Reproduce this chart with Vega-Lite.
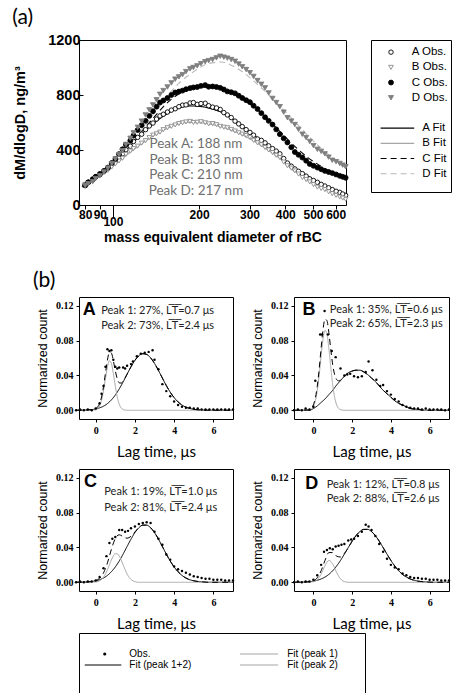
{
"$schema": "https://vega.github.io/schema/vega-lite/v6.json",
"background": "white",
"padding": {"left": 12, "top": 6, "right": 0, "bottom": 0},
"config": {
  "view": {"stroke": "black", "strokeWidth": 1},
  "axis": {"grid": false, "labelColor": "black", "titleColor": "black", "tickColor": "black", "domainColor": "black"},
  "title": {"color": "black"}
},
"datasets": {
  "sizeObs": [
    {"s":"A","d":80,"v":148},{"s":"A","d":85,"v":182},{"s":"A","d":90,"v":228},{"s":"A","d":96,"v":266},{"s":"A","d":102,"v":322},{"s":"A","d":108,"v":372},{"s":"A","d":115,"v":428},{"s":"A","d":122,"v":492},{"s":"A","d":130,"v":548},{"s":"A","d":138,"v":596},{"s":"A","d":146,"v":648},{"s":"A","d":155,"v":676},{"s":"A","d":165,"v":700},{"s":"A","d":175,"v":726},{"s":"A","d":186,"v":742},{"s":"A","d":197,"v":732},{"s":"A","d":210,"v":740},{"s":"A","d":223,"v":712},{"s":"A","d":237,"v":695},{"s":"A","d":251,"v":655},{"s":"A","d":267,"v":610},{"s":"A","d":283,"v":570},{"s":"A","d":301,"v":528},{"s":"A","d":320,"v":480},{"s":"A","d":340,"v":452},{"s":"A","d":361,"v":410},{"s":"A","d":383,"v":372},{"s":"A","d":407,"v":305},{"s":"A","d":432,"v":262},{"s":"A","d":459,"v":228},{"s":"A","d":487,"v":190},{"s":"A","d":518,"v":165},{"s":"A","d":550,"v":138},{"s":"A","d":584,"v":112},{"s":"A","d":620,"v":92},{"s":"A","d":650,"v":70},
    {"s":"A","d":82,"v":165},{"s":"A","d":87,"v":205},{"s":"A","d":93,"v":245},{"s":"A","d":99,"v":298},{"s":"A","d":105,"v":345},{"s":"A","d":111,"v":402},{"s":"A","d":118,"v":462},{"s":"A","d":126,"v":515},{"s":"A","d":134,"v":575},{"s":"A","d":142,"v":625},{"s":"A","d":150,"v":660},{"s":"A","d":160,"v":690},{"s":"A","d":170,"v":715},{"s":"A","d":180,"v":728},{"s":"A","d":191,"v":745},{"s":"A","d":203,"v":738},{"s":"A","d":216,"v":722},{"s":"A","d":230,"v":706},{"s":"A","d":244,"v":672},{"s":"A","d":259,"v":636},{"s":"A","d":275,"v":590},{"s":"A","d":292,"v":548},{"s":"A","d":310,"v":508},{"s":"A","d":330,"v":470},{"s":"A","d":350,"v":430},{"s":"A","d":372,"v":392},{"s":"A","d":395,"v":338},{"s":"A","d":420,"v":282},{"s":"A","d":445,"v":245},{"s":"A","d":473,"v":210},{"s":"A","d":502,"v":178},{"s":"A","d":534,"v":150},{"s":"A","d":567,"v":125},{"s":"A","d":602,"v":100},{"s":"A","d":635,"v":80},
    {"s":"B","d":80,"v":150},{"s":"B","d":85,"v":176},{"s":"B","d":90,"v":218},{"s":"B","d":96,"v":252},{"s":"B","d":102,"v":298},{"s":"B","d":108,"v":340},{"s":"B","d":115,"v":392},{"s":"B","d":122,"v":428},{"s":"B","d":130,"v":468},{"s":"B","d":138,"v":508},{"s":"B","d":146,"v":530},{"s":"B","d":155,"v":562},{"s":"B","d":165,"v":582},{"s":"B","d":175,"v":598},{"s":"B","d":186,"v":608},{"s":"B","d":197,"v":602},{"s":"B","d":210,"v":598},{"s":"B","d":223,"v":592},{"s":"B","d":237,"v":572},{"s":"B","d":251,"v":562},{"s":"B","d":267,"v":538},{"s":"B","d":283,"v":515},{"s":"B","d":301,"v":492},{"s":"B","d":320,"v":452},{"s":"B","d":340,"v":418},{"s":"B","d":361,"v":382},{"s":"B","d":383,"v":345},{"s":"B","d":407,"v":285},{"s":"B","d":432,"v":248},{"s":"B","d":459,"v":200},{"s":"B","d":487,"v":168},{"s":"B","d":518,"v":130},{"s":"B","d":550,"v":112},{"s":"B","d":584,"v":82},{"s":"B","d":620,"v":58},{"s":"B","d":650,"v":42},
    {"s":"B","d":82,"v":162},{"s":"B","d":87,"v":198},{"s":"B","d":93,"v":236},{"s":"B","d":99,"v":276},{"s":"B","d":105,"v":320},{"s":"B","d":111,"v":368},{"s":"B","d":118,"v":410},{"s":"B","d":126,"v":450},{"s":"B","d":134,"v":490},{"s":"B","d":142,"v":518},{"s":"B","d":150,"v":548},{"s":"B","d":160,"v":572},{"s":"B","d":170,"v":592},{"s":"B","d":180,"v":604},{"s":"B","d":191,"v":600},{"s":"B","d":203,"v":606},{"s":"B","d":216,"v":590},{"s":"B","d":230,"v":584},{"s":"B","d":244,"v":566},{"s":"B","d":259,"v":550},{"s":"B","d":275,"v":525},{"s":"B","d":292,"v":505},{"s":"B","d":310,"v":470},{"s":"B","d":330,"v":438},{"s":"B","d":350,"v":400},{"s":"B","d":372,"v":362},{"s":"B","d":395,"v":312},{"s":"B","d":420,"v":268},{"s":"B","d":445,"v":225},{"s":"B","d":473,"v":185},{"s":"B","d":502,"v":148},{"s":"B","d":534,"v":120},{"s":"B","d":567,"v":96},{"s":"B","d":602,"v":70},{"s":"B","d":635,"v":50},
    {"s":"C","d":80,"v":142},{"s":"C","d":85,"v":188},{"s":"C","d":90,"v":222},{"s":"C","d":96,"v":272},{"s":"C","d":102,"v":335},{"s":"C","d":108,"v":405},{"s":"C","d":115,"v":468},{"s":"C","d":122,"v":545},{"s":"C","d":130,"v":612},{"s":"C","d":138,"v":682},{"s":"C","d":146,"v":745},{"s":"C","d":155,"v":778},{"s":"C","d":165,"v":818},{"s":"C","d":175,"v":832},{"s":"C","d":186,"v":850},{"s":"C","d":197,"v":858},{"s":"C","d":210,"v":872},{"s":"C","d":223,"v":862},{"s":"C","d":237,"v":852},{"s":"C","d":251,"v":826},{"s":"C","d":267,"v":812},{"s":"C","d":283,"v":778},{"s":"C","d":301,"v":748},{"s":"C","d":320,"v":698},{"s":"C","d":340,"v":638},{"s":"C","d":361,"v":585},{"s":"C","d":383,"v":515},{"s":"C","d":407,"v":455},{"s":"C","d":432,"v":385},{"s":"C","d":459,"v":345},{"s":"C","d":487,"v":298},{"s":"C","d":518,"v":272},{"s":"C","d":550,"v":248},{"s":"C","d":584,"v":232},{"s":"C","d":620,"v":212},{"s":"C","d":650,"v":198},
    {"s":"C","d":82,"v":165},{"s":"C","d":87,"v":205},{"s":"C","d":93,"v":248},{"s":"C","d":99,"v":305},{"s":"C","d":105,"v":370},{"s":"C","d":111,"v":438},{"s":"C","d":118,"v":505},{"s":"C","d":126,"v":580},{"s":"C","d":134,"v":648},{"s":"C","d":142,"v":715},{"s":"C","d":150,"v":760},{"s":"C","d":160,"v":800},{"s":"C","d":170,"v":825},{"s":"C","d":180,"v":842},{"s":"C","d":191,"v":855},{"s":"C","d":203,"v":866},{"s":"C","d":216,"v":860},{"s":"C","d":230,"v":858},{"s":"C","d":244,"v":840},{"s":"C","d":259,"v":820},{"s":"C","d":275,"v":795},{"s":"C","d":292,"v":762},{"s":"C","d":310,"v":722},{"s":"C","d":330,"v":668},{"s":"C","d":350,"v":612},{"s":"C","d":372,"v":550},{"s":"C","d":395,"v":485},{"s":"C","d":420,"v":420},{"s":"C","d":445,"v":365},{"s":"C","d":473,"v":322},{"s":"C","d":502,"v":285},{"s":"C","d":534,"v":260},{"s":"C","d":567,"v":240},{"s":"C","d":602,"v":222},{"s":"C","d":635,"v":205},
    {"s":"D","d":80,"v":140},{"s":"D","d":85,"v":170},{"s":"D","d":90,"v":212},{"s":"D","d":96,"v":268},{"s":"D","d":102,"v":335},{"s":"D","d":108,"v":395},{"s":"D","d":115,"v":485},{"s":"D","d":122,"v":565},{"s":"D","d":130,"v":655},{"s":"D","d":138,"v":728},{"s":"D","d":146,"v":805},{"s":"D","d":155,"v":858},{"s":"D","d":165,"v":915},{"s":"D","d":175,"v":948},{"s":"D","d":186,"v":990},{"s":"D","d":197,"v":1012},{"s":"D","d":210,"v":1042},{"s":"D","d":223,"v":1058},{"s":"D","d":237,"v":1082},{"s":"D","d":251,"v":1068},{"s":"D","d":267,"v":1045},{"s":"D","d":283,"v":1005},{"s":"D","d":301,"v":962},{"s":"D","d":320,"v":905},{"s":"D","d":340,"v":852},{"s":"D","d":361,"v":775},{"s":"D","d":383,"v":715},{"s":"D","d":407,"v":635},{"s":"D","d":432,"v":585},{"s":"D","d":459,"v":515},{"s":"D","d":487,"v":462},{"s":"D","d":518,"v":405},{"s":"D","d":550,"v":372},{"s":"D","d":584,"v":325},{"s":"D","d":620,"v":302},{"s":"D","d":650,"v":278},
    {"s":"D","d":82,"v":155},{"s":"D","d":87,"v":192},{"s":"D","d":93,"v":240},{"s":"D","d":99,"v":300},{"s":"D","d":105,"v":365},{"s":"D","d":111,"v":440},{"s":"D","d":118,"v":525},{"s":"D","d":126,"v":610},{"s":"D","d":134,"v":692},{"s":"D","d":142,"v":765},{"s":"D","d":150,"v":832},{"s":"D","d":160,"v":888},{"s":"D","d":170,"v":932},{"s":"D","d":180,"v":970},{"s":"D","d":191,"v":1000},{"s":"D","d":203,"v":1028},{"s":"D","d":216,"v":1050},{"s":"D","d":230,"v":1070},{"s":"D","d":244,"v":1075},{"s":"D","d":259,"v":1058},{"s":"D","d":275,"v":1025},{"s":"D","d":292,"v":985},{"s":"D","d":310,"v":935},{"s":"D","d":330,"v":878},{"s":"D","d":350,"v":815},{"s":"D","d":372,"v":745},{"s":"D","d":395,"v":675},{"s":"D","d":420,"v":610},{"s":"D","d":445,"v":550},{"s":"D","d":473,"v":490},{"s":"D","d":502,"v":432},{"s":"D","d":534,"v":390},{"s":"D","d":567,"v":348},{"s":"D","d":602,"v":315},{"s":"D","d":635,"v":290}
  ],
  "sizeFit": [
    {"s":"A","d":78,"v":138},{"s":"A","d":90,"v":222},{"s":"A","d":100,"v":300},{"s":"A","d":112,"v":405},{"s":"A","d":125,"v":510},{"s":"A","d":140,"v":600},{"s":"A","d":155,"v":665},{"s":"A","d":170,"v":705},{"s":"A","d":188,"v":720},{"s":"A","d":205,"v":715},{"s":"A","d":225,"v":695},{"s":"A","d":250,"v":655},{"s":"A","d":280,"v":580},{"s":"A","d":310,"v":510},{"s":"A","d":345,"v":440},{"s":"A","d":385,"v":355},{"s":"A","d":430,"v":275},{"s":"A","d":480,"v":210},{"s":"A","d":535,"v":155},{"s":"A","d":595,"v":110},{"s":"A","d":652,"v":78},
    {"s":"B","d":78,"v":138},{"s":"B","d":90,"v":212},{"s":"B","d":100,"v":282},{"s":"B","d":112,"v":365},{"s":"B","d":125,"v":440},{"s":"B","d":140,"v":508},{"s":"B","d":155,"v":558},{"s":"B","d":170,"v":590},{"s":"B","d":183,"v":600},{"s":"B","d":200,"v":598},{"s":"B","d":225,"v":582},{"s":"B","d":250,"v":555},{"s":"B","d":280,"v":515},{"s":"B","d":310,"v":465},{"s":"B","d":345,"v":405},{"s":"B","d":385,"v":335},{"s":"B","d":430,"v":262},{"s":"B","d":480,"v":198},{"s":"B","d":535,"v":140},{"s":"B","d":595,"v":95},{"s":"B","d":652,"v":60},
    {"s":"C","d":78,"v":132},{"s":"C","d":90,"v":215},{"s":"C","d":100,"v":295},{"s":"C","d":112,"v":400},{"s":"C","d":125,"v":525},{"s":"C","d":140,"v":645},{"s":"C","d":155,"v":745},{"s":"C","d":170,"v":808},{"s":"C","d":190,"v":845},{"s":"C","d":210,"v":858},{"s":"C","d":230,"v":850},{"s":"C","d":255,"v":825},{"s":"C","d":280,"v":780},{"s":"C","d":310,"v":715},{"s":"C","d":345,"v":630},{"s":"C","d":385,"v":530},{"s":"C","d":430,"v":430},{"s":"C","d":480,"v":345},{"s":"C","d":535,"v":280},{"s":"C","d":595,"v":228},{"s":"C","d":652,"v":190},
    {"s":"D","d":78,"v":128},{"s":"D","d":90,"v":208},{"s":"D","d":100,"v":295},{"s":"D","d":112,"v":405},{"s":"D","d":125,"v":535},{"s":"D","d":140,"v":675},{"s":"D","d":155,"v":795},{"s":"D","d":170,"v":885},{"s":"D","d":190,"v":965},{"s":"D","d":217,"v":1030},{"s":"D","d":240,"v":1040},{"s":"D","d":260,"v":1015},{"s":"D","d":285,"v":965},{"s":"D","d":315,"v":890},{"s":"D","d":345,"v":815},{"s":"D","d":385,"v":715},{"s":"D","d":430,"v":610},{"s":"D","d":480,"v":505},{"s":"D","d":535,"v":410},{"s":"D","d":595,"v":330},{"s":"D","d":652,"v":270}
  ],
  "lagObs": [
    {"p":"A","t":-1,"v":0},{"p":"A","t":-0.8,"v":0.001},{"p":"A","t":-0.6,"v":0},{"p":"A","t":-0.4,"v":0.001},{"p":"A","t":-0.2,"v":0},{"p":"A","t":0,"v":0.002},{"p":"A","t":0.2,"v":0.008},{"p":"A","t":0.3,"v":0.019},{"p":"A","t":0.4,"v":0.028},{"p":"A","t":0.5,"v":0.05},{"p":"A","t":0.6,"v":0.07},{"p":"A","t":0.7,"v":0.068},{"p":"A","t":0.8,"v":0.069},{"p":"A","t":0.9,"v":0.058},{"p":"A","t":1,"v":0.05},{"p":"A","t":1.1,"v":0.048},{"p":"A","t":1.2,"v":0.049},{"p":"A","t":1.4,"v":0.049},{"p":"A","t":1.5,"v":0.048},{"p":"A","t":1.6,"v":0.051},{"p":"A","t":1.8,"v":0.053},{"p":"A","t":1.9,"v":0.056},{"p":"A","t":2.1,"v":0.062},{"p":"A","t":2.3,"v":0.065},{"p":"A","t":2.5,"v":0.066},{"p":"A","t":2.7,"v":0.067},{"p":"A","t":2.9,"v":0.069},{"p":"A","t":3,"v":0.058},{"p":"A","t":3.2,"v":0.047},{"p":"A","t":3.4,"v":0.03},{"p":"A","t":3.6,"v":0.022},{"p":"A","t":3.8,"v":0.016},{"p":"A","t":4,"v":0.01},{"p":"A","t":4.2,"v":0.006},{"p":"A","t":4.4,"v":0.004},{"p":"A","t":4.6,"v":0.003},{"p":"A","t":4.8,"v":0.003},{"p":"A","t":5,"v":0.002},{"p":"A","t":5.2,"v":0.002},{"p":"A","t":5.4,"v":0.001},{"p":"A","t":5.6,"v":0.001},{"p":"A","t":5.8,"v":0.001},{"p":"A","t":6,"v":0.001},{"p":"A","t":6.2,"v":0.001},{"p":"A","t":6.4,"v":0.001},{"p":"A","t":6.6,"v":0.001},{"p":"A","t":6.8,"v":0.001},{"p":"A","t":7,"v":0.001},
    {"p":"B","t":-1,"v":0},{"p":"B","t":-0.8,"v":0.001},{"p":"B","t":-0.6,"v":0},{"p":"B","t":-0.4,"v":0.002},{"p":"B","t":-0.2,"v":0.001},{"p":"B","t":0,"v":0.004},{"p":"B","t":0.1,"v":0.034},{"p":"B","t":0.35,"v":0.087},{"p":"B","t":0.45,"v":0.087},{"p":"B","t":0.58,"v":0.114},{"p":"B","t":0.75,"v":0.087},{"p":"B","t":0.95,"v":0.068},{"p":"B","t":1.15,"v":0.061},{"p":"B","t":1.4,"v":0.048},{"p":"B","t":1.6,"v":0.04},{"p":"B","t":1.75,"v":0.041},{"p":"B","t":1.9,"v":0.042},{"p":"B","t":2.1,"v":0.039},{"p":"B","t":2.3,"v":0.038},{"p":"B","t":2.5,"v":0.039},{"p":"B","t":2.7,"v":0.044},{"p":"B","t":2.85,"v":0.056},{"p":"B","t":3.05,"v":0.046},{"p":"B","t":3.25,"v":0.035},{"p":"B","t":3.45,"v":0.028},{"p":"B","t":3.6,"v":0.029},{"p":"B","t":3.8,"v":0.022},{"p":"B","t":4,"v":0.018},{"p":"B","t":4.2,"v":0.013},{"p":"B","t":4.4,"v":0.01},{"p":"B","t":4.6,"v":0.006},{"p":"B","t":4.8,"v":0.004},{"p":"B","t":5,"v":0.003},{"p":"B","t":5.2,"v":0.002},{"p":"B","t":5.4,"v":0.002},{"p":"B","t":5.6,"v":0.001},{"p":"B","t":5.8,"v":0.002},{"p":"B","t":6,"v":0.001},{"p":"B","t":6.2,"v":0.001},{"p":"B","t":6.4,"v":0.001},{"p":"B","t":6.6,"v":0.001},{"p":"B","t":6.8,"v":0},{"p":"B","t":7,"v":0.001},
    {"p":"C","t":-1,"v":0},{"p":"C","t":-0.8,"v":0.001},{"p":"C","t":-0.6,"v":0},{"p":"C","t":-0.4,"v":0.001},{"p":"C","t":-0.2,"v":0.001},{"p":"C","t":0,"v":0.002},{"p":"C","t":0.2,"v":0.006},{"p":"C","t":0.4,"v":0.016},{"p":"C","t":0.55,"v":0.03},{"p":"C","t":0.7,"v":0.045},{"p":"C","t":0.85,"v":0.05},{"p":"C","t":1,"v":0.052},{"p":"C","t":1.2,"v":0.06},{"p":"C","t":1.35,"v":0.06},{"p":"C","t":1.5,"v":0.058},{"p":"C","t":1.65,"v":0.059},{"p":"C","t":1.8,"v":0.062},{"p":"C","t":2,"v":0.064},{"p":"C","t":2.2,"v":0.067},{"p":"C","t":2.4,"v":0.068},{"p":"C","t":2.6,"v":0.069},{"p":"C","t":2.8,"v":0.068},{"p":"C","t":3,"v":0.058},{"p":"C","t":3.2,"v":0.05},{"p":"C","t":3.4,"v":0.043},{"p":"C","t":3.6,"v":0.032},{"p":"C","t":3.8,"v":0.026},{"p":"C","t":4,"v":0.018},{"p":"C","t":4.2,"v":0.015},{"p":"C","t":4.4,"v":0.013},{"p":"C","t":4.6,"v":0.011},{"p":"C","t":4.8,"v":0.009},{"p":"C","t":5,"v":0.007},{"p":"C","t":5.2,"v":0.006},{"p":"C","t":5.4,"v":0.005},{"p":"C","t":5.6,"v":0.004},{"p":"C","t":5.8,"v":0.004},{"p":"C","t":6,"v":0.003},{"p":"C","t":6.2,"v":0.003},{"p":"C","t":6.4,"v":0.003},{"p":"C","t":6.6,"v":0.002},{"p":"C","t":6.8,"v":0.002},{"p":"C","t":7,"v":0.002},
    {"p":"D","t":-1,"v":0},{"p":"D","t":-0.8,"v":0.001},{"p":"D","t":-0.6,"v":0},{"p":"D","t":-0.4,"v":0.001},{"p":"D","t":-0.2,"v":0.001},{"p":"D","t":0,"v":0.003},{"p":"D","t":0.2,"v":0.008},{"p":"D","t":0.4,"v":0.02},{"p":"D","t":0.55,"v":0.035},{"p":"D","t":0.7,"v":0.037},{"p":"D","t":0.85,"v":0.039},{"p":"D","t":1,"v":0.038},{"p":"D","t":1.15,"v":0.041},{"p":"D","t":1.3,"v":0.042},{"p":"D","t":1.45,"v":0.043},{"p":"D","t":1.6,"v":0.044},{"p":"D","t":1.8,"v":0.048},{"p":"D","t":1.95,"v":0.049},{"p":"D","t":2.1,"v":0.05},{"p":"D","t":2.3,"v":0.053},{"p":"D","t":2.5,"v":0.058},{"p":"D","t":2.7,"v":0.066},{"p":"D","t":2.85,"v":0.064},{"p":"D","t":3,"v":0.06},{"p":"D","t":3.2,"v":0.053},{"p":"D","t":3.4,"v":0.044},{"p":"D","t":3.6,"v":0.035},{"p":"D","t":3.8,"v":0.027},{"p":"D","t":4,"v":0.02},{"p":"D","t":4.2,"v":0.017},{"p":"D","t":4.4,"v":0.015},{"p":"D","t":4.6,"v":0.01},{"p":"D","t":4.8,"v":0.008},{"p":"D","t":5,"v":0.006},{"p":"D","t":5.2,"v":0.005},{"p":"D","t":5.4,"v":0.005},{"p":"D","t":5.6,"v":0.004},{"p":"D","t":5.8,"v":0.004},{"p":"D","t":6,"v":0.003},{"p":"D","t":6.2,"v":0.003},{"p":"D","t":6.4,"v":0.003},{"p":"D","t":6.6,"v":0.002},{"p":"D","t":6.8,"v":0.002},{"p":"D","t":7,"v":0.002}
  ],
  "lagFit": [
    {"p":"A","c":"p2","t":-1,"v":0},{"p":"A","c":"p2","t":-0.4,"v":0.0004},{"p":"A","c":"p2","t":0,"v":0.0015},{"p":"A","c":"p2","t":0.2,"v":0.0028},{"p":"A","c":"p2","t":0.4,"v":0.0047},{"p":"A","c":"p2","t":0.6,"v":0.0077},{"p":"A","c":"p2","t":0.8,"v":0.0119},{"p":"A","c":"p2","t":1,"v":0.0175},{"p":"A","c":"p2","t":1.2,"v":0.0245},{"p":"A","c":"p2","t":1.4,"v":0.0326},{"p":"A","c":"p2","t":1.6,"v":0.0414},{"p":"A","c":"p2","t":1.8,"v":0.0499},{"p":"A","c":"p2","t":2,"v":0.0573},{"p":"A","c":"p2","t":2.2,"v":0.0625},{"p":"A","c":"p2","t":2.4,"v":0.0649},{"p":"A","c":"p2","t":2.6,"v":0.0641},{"p":"A","c":"p2","t":2.8,"v":0.0602},{"p":"A","c":"p2","t":3,"v":0.0538},{"p":"A","c":"p2","t":3.2,"v":0.0457},{"p":"A","c":"p2","t":3.4,"v":0.037},{"p":"A","c":"p2","t":3.6,"v":0.0284},{"p":"A","c":"p2","t":3.8,"v":0.0208},{"p":"A","c":"p2","t":4,"v":0.0145},{"p":"A","c":"p2","t":4.2,"v":0.0096},{"p":"A","c":"p2","t":4.4,"v":0.006},{"p":"A","c":"p2","t":4.6,"v":0.0036},{"p":"A","c":"p2","t":4.8,"v":0.0021},{"p":"A","c":"p2","t":5,"v":0.0011},{"p":"A","c":"p2","t":5.4,"v":0.0003},{"p":"A","c":"p2","t":5.8,"v":0},{"p":"A","c":"p2","t":7,"v":0},
    {"p":"A","c":"p1","t":-1,"v":0},{"p":"A","c":"p1","t":0,"v":0.0005},{"p":"A","c":"p1","t":0.1,"v":0.0017},{"p":"A","c":"p1","t":0.2,"v":0.0049},{"p":"A","c":"p1","t":0.3,"v":0.0115},{"p":"A","c":"p1","t":0.4,"v":0.0225},{"p":"A","c":"p1","t":0.5,"v":0.0367},{"p":"A","c":"p1","t":0.6,"v":0.05},{"p":"A","c":"p1","t":0.7,"v":0.0569},{"p":"A","c":"p1","t":0.8,"v":0.0538},{"p":"A","c":"p1","t":0.9,"v":0.0424},{"p":"A","c":"p1","t":1,"v":0.0279},{"p":"A","c":"p1","t":1.1,"v":0.0153},{"p":"A","c":"p1","t":1.2,"v":0.007},{"p":"A","c":"p1","t":1.3,"v":0.0027},{"p":"A","c":"p1","t":1.4,"v":0.0009},{"p":"A","c":"p1","t":1.6,"v":0},{"p":"A","c":"p1","t":7,"v":0},
    {"p":"A","c":"total","t":-1,"v":0},{"p":"A","c":"total","t":-0.4,"v":0.0004},{"p":"A","c":"total","t":0,"v":0.002},{"p":"A","c":"total","t":0.1,"v":0.0038},{"p":"A","c":"total","t":0.2,"v":0.0077},{"p":"A","c":"total","t":0.3,"v":0.0152},{"p":"A","c":"total","t":0.4,"v":0.0272},{"p":"A","c":"total","t":0.5,"v":0.0428},{"p":"A","c":"total","t":0.6,"v":0.0577},{"p":"A","c":"total","t":0.7,"v":0.0666},{"p":"A","c":"total","t":0.8,"v":0.0657},{"p":"A","c":"total","t":0.9,"v":0.057},{"p":"A","c":"total","t":1,"v":0.0454},{"p":"A","c":"total","t":1.1,"v":0.0362},{"p":"A","c":"total","t":1.2,"v":0.0315},{"p":"A","c":"total","t":1.3,"v":0.0312},{"p":"A","c":"total","t":1.4,"v":0.0335},{"p":"A","c":"total","t":1.6,"v":0.0414},{"p":"A","c":"total","t":1.8,"v":0.0499},{"p":"A","c":"total","t":2,"v":0.0573},{"p":"A","c":"total","t":2.2,"v":0.0625},{"p":"A","c":"total","t":2.4,"v":0.0649},{"p":"A","c":"total","t":2.6,"v":0.0641},{"p":"A","c":"total","t":2.8,"v":0.0602},{"p":"A","c":"total","t":3,"v":0.0538},{"p":"A","c":"total","t":3.2,"v":0.0457},{"p":"A","c":"total","t":3.4,"v":0.037},{"p":"A","c":"total","t":3.6,"v":0.0284},{"p":"A","c":"total","t":3.8,"v":0.0208},{"p":"A","c":"total","t":4,"v":0.0145},{"p":"A","c":"total","t":4.2,"v":0.0096},{"p":"A","c":"total","t":4.4,"v":0.006},{"p":"A","c":"total","t":4.6,"v":0.0036},{"p":"A","c":"total","t":4.8,"v":0.0021},{"p":"A","c":"total","t":5,"v":0.0011},{"p":"A","c":"total","t":5.4,"v":0.0003},{"p":"A","c":"total","t":5.8,"v":0},{"p":"A","c":"total","t":7,"v":0},
    {"p":"B","c":"p2","t":-1,"v":0},{"p":"B","c":"p2","t":-0.2,"v":0},{"p":"B","c":"p2","t":0,"v":0.002},{"p":"B","c":"p2","t":0.2,"v":0.005},{"p":"B","c":"p2","t":0.4,"v":0.009},{"p":"B","c":"p2","t":0.6,"v":0.013},{"p":"B","c":"p2","t":0.8,"v":0.018},{"p":"B","c":"p2","t":1,"v":0.023},{"p":"B","c":"p2","t":1.2,"v":0.029},{"p":"B","c":"p2","t":1.4,"v":0.034},{"p":"B","c":"p2","t":1.6,"v":0.039},{"p":"B","c":"p2","t":1.8,"v":0.043},{"p":"B","c":"p2","t":2,"v":0.045},{"p":"B","c":"p2","t":2.2,"v":0.046},{"p":"B","c":"p2","t":2.4,"v":0.046},{"p":"B","c":"p2","t":2.6,"v":0.044},{"p":"B","c":"p2","t":2.8,"v":0.041},{"p":"B","c":"p2","t":3,"v":0.037},{"p":"B","c":"p2","t":3.2,"v":0.033},{"p":"B","c":"p2","t":3.4,"v":0.028},{"p":"B","c":"p2","t":3.6,"v":0.023},{"p":"B","c":"p2","t":3.8,"v":0.019},{"p":"B","c":"p2","t":4,"v":0.015},{"p":"B","c":"p2","t":4.2,"v":0.011},{"p":"B","c":"p2","t":4.4,"v":0.008},{"p":"B","c":"p2","t":4.6,"v":0.006},{"p":"B","c":"p2","t":4.8,"v":0.004},{"p":"B","c":"p2","t":5,"v":0.002},{"p":"B","c":"p2","t":5.4,"v":0.001},{"p":"B","c":"p2","t":5.8,"v":0},{"p":"B","c":"p2","t":7,"v":0},
    {"p":"B","c":"p1","t":-1,"v":0},{"p":"B","c":"p1","t":-0.2,"v":0.0004},{"p":"B","c":"p1","t":-0.1,"v":0.0015},{"p":"B","c":"p1","t":0,"v":0.0042},{"p":"B","c":"p1","t":0.1,"v":0.0106},{"p":"B","c":"p1","t":0.2,"v":0.0225},{"p":"B","c":"p1","t":0.3,"v":0.0405},{"p":"B","c":"p1","t":0.4,"v":0.0625},{"p":"B","c":"p1","t":0.5,"v":0.082},{"p":"B","c":"p1","t":0.6,"v":0.0917},{"p":"B","c":"p1","t":0.7,"v":0.0874},{"p":"B","c":"p1","t":0.8,"v":0.071},{"p":"B","c":"p1","t":0.9,"v":0.0491},{"p":"B","c":"p1","t":1,"v":0.029},{"p":"B","c":"p1","t":1.1,"v":0.0146},{"p":"B","c":"p1","t":1.2,"v":0.0063},{"p":"B","c":"p1","t":1.3,"v":0.0023},{"p":"B","c":"p1","t":1.4,"v":0.0007},{"p":"B","c":"p1","t":1.6,"v":0},{"p":"B","c":"p1","t":7,"v":0},
    {"p":"B","c":"total","t":-1,"v":0},{"p":"B","c":"total","t":-0.2,"v":0.0004},{"p":"B","c":"total","t":-0.1,"v":0.0025},{"p":"B","c":"total","t":0,"v":0.0062},{"p":"B","c":"total","t":0.1,"v":0.014},{"p":"B","c":"total","t":0.2,"v":0.0275},{"p":"B","c":"total","t":0.3,"v":0.0475},{"p":"B","c":"total","t":0.4,"v":0.0715},{"p":"B","c":"total","t":0.5,"v":0.093},{"p":"B","c":"total","t":0.6,"v":0.1047},{"p":"B","c":"total","t":0.7,"v":0.1029},{"p":"B","c":"total","t":0.8,"v":0.089},{"p":"B","c":"total","t":0.9,"v":0.0696},{"p":"B","c":"total","t":1,"v":0.052},{"p":"B","c":"total","t":1.1,"v":0.0406},{"p":"B","c":"total","t":1.2,"v":0.0353},{"p":"B","c":"total","t":1.3,"v":0.0338},{"p":"B","c":"total","t":1.4,"v":0.0347},{"p":"B","c":"total","t":1.6,"v":0.039},{"p":"B","c":"total","t":1.8,"v":0.043},{"p":"B","c":"total","t":2,"v":0.045},{"p":"B","c":"total","t":2.2,"v":0.046},{"p":"B","c":"total","t":2.4,"v":0.046},{"p":"B","c":"total","t":2.6,"v":0.044},{"p":"B","c":"total","t":2.8,"v":0.041},{"p":"B","c":"total","t":3,"v":0.037},{"p":"B","c":"total","t":3.2,"v":0.033},{"p":"B","c":"total","t":3.4,"v":0.028},{"p":"B","c":"total","t":3.6,"v":0.023},{"p":"B","c":"total","t":3.8,"v":0.019},{"p":"B","c":"total","t":4,"v":0.015},{"p":"B","c":"total","t":4.2,"v":0.011},{"p":"B","c":"total","t":4.4,"v":0.008},{"p":"B","c":"total","t":4.6,"v":0.006},{"p":"B","c":"total","t":4.8,"v":0.004},{"p":"B","c":"total","t":5,"v":0.002},{"p":"B","c":"total","t":5.4,"v":0.001},{"p":"B","c":"total","t":5.8,"v":0},{"p":"B","c":"total","t":7,"v":0},
    {"p":"C","c":"p2","t":-1,"v":0},{"p":"C","c":"p2","t":-0.4,"v":0.0004},{"p":"C","c":"p2","t":0,"v":0.0017},{"p":"C","c":"p2","t":0.2,"v":0.0029},{"p":"C","c":"p2","t":0.4,"v":0.0049},{"p":"C","c":"p2","t":0.6,"v":0.0079},{"p":"C","c":"p2","t":0.8,"v":0.0121},{"p":"C","c":"p2","t":1,"v":0.0176},{"p":"C","c":"p2","t":1.2,"v":0.0244},{"p":"C","c":"p2","t":1.4,"v":0.0324},{"p":"C","c":"p2","t":1.6,"v":0.041},{"p":"C","c":"p2","t":1.8,"v":0.0495},{"p":"C","c":"p2","t":2,"v":0.057},{"p":"C","c":"p2","t":2.2,"v":0.0626},{"p":"C","c":"p2","t":2.4,"v":0.0656},{"p":"C","c":"p2","t":2.6,"v":0.0656},{"p":"C","c":"p2","t":2.8,"v":0.0626},{"p":"C","c":"p2","t":3,"v":0.057},{"p":"C","c":"p2","t":3.2,"v":0.0495},{"p":"C","c":"p2","t":3.4,"v":0.041},{"p":"C","c":"p2","t":3.6,"v":0.0324},{"p":"C","c":"p2","t":3.8,"v":0.0244},{"p":"C","c":"p2","t":4,"v":0.0176},{"p":"C","c":"p2","t":4.2,"v":0.0121},{"p":"C","c":"p2","t":4.4,"v":0.0079},{"p":"C","c":"p2","t":4.6,"v":0.0049},{"p":"C","c":"p2","t":4.8,"v":0.0029},{"p":"C","c":"p2","t":5,"v":0.0017},{"p":"C","c":"p2","t":5.4,"v":0.0005},{"p":"C","c":"p2","t":5.8,"v":0},{"p":"C","c":"p2","t":7,"v":0},
    {"p":"C","c":"p1","t":-1,"v":0},{"p":"C","c":"p1","t":0,"v":0.0004},{"p":"C","c":"p1","t":0.2,"v":0.0017},{"p":"C","c":"p1","t":0.4,"v":0.0059},{"p":"C","c":"p1","t":0.6,"v":0.0144},{"p":"C","c":"p1","t":0.8,"v":0.0256},{"p":"C","c":"p1","t":1,"v":0.0327},{"p":"C","c":"p1","t":1.1,"v":0.0327},{"p":"C","c":"p1","t":1.2,"v":0.0301},{"p":"C","c":"p1","t":1.4,"v":0.02},{"p":"C","c":"p1","t":1.6,"v":0.0096},{"p":"C","c":"p1","t":1.8,"v":0.0033},{"p":"C","c":"p1","t":2,"v":0.0008},{"p":"C","c":"p1","t":2.2,"v":0},{"p":"C","c":"p1","t":7,"v":0},
    {"p":"C","c":"total","t":-1,"v":0},{"p":"C","c":"total","t":-0.4,"v":0.0004},{"p":"C","c":"total","t":0,"v":0.0021},{"p":"C","c":"total","t":0.2,"v":0.0046},{"p":"C","c":"total","t":0.4,"v":0.0108},{"p":"C","c":"total","t":0.6,"v":0.0223},{"p":"C","c":"total","t":0.8,"v":0.0377},{"p":"C","c":"total","t":1,"v":0.0503},{"p":"C","c":"total","t":1.2,"v":0.0545},{"p":"C","c":"total","t":1.4,"v":0.0524},{"p":"C","c":"total","t":1.6,"v":0.0506},{"p":"C","c":"total","t":1.8,"v":0.0528},{"p":"C","c":"total","t":2,"v":0.0578},{"p":"C","c":"total","t":2.2,"v":0.0626},{"p":"C","c":"total","t":2.4,"v":0.0656},{"p":"C","c":"total","t":2.6,"v":0.0656},{"p":"C","c":"total","t":2.8,"v":0.0626},{"p":"C","c":"total","t":3,"v":0.057},{"p":"C","c":"total","t":3.2,"v":0.0495},{"p":"C","c":"total","t":3.4,"v":0.041},{"p":"C","c":"total","t":3.6,"v":0.0324},{"p":"C","c":"total","t":3.8,"v":0.0244},{"p":"C","c":"total","t":4,"v":0.0176},{"p":"C","c":"total","t":4.2,"v":0.0121},{"p":"C","c":"total","t":4.4,"v":0.0079},{"p":"C","c":"total","t":4.6,"v":0.0049},{"p":"C","c":"total","t":4.8,"v":0.0029},{"p":"C","c":"total","t":5,"v":0.0017},{"p":"C","c":"total","t":5.4,"v":0.0005},{"p":"C","c":"total","t":5.8,"v":0},{"p":"C","c":"total","t":7,"v":0},
    {"p":"D","c":"p2","t":-1,"v":0},{"p":"D","c":"p2","t":-0.4,"v":0.0003},{"p":"D","c":"p2","t":0,"v":0.0013},{"p":"D","c":"p2","t":0.2,"v":0.0023},{"p":"D","c":"p2","t":0.4,"v":0.0038},{"p":"D","c":"p2","t":0.6,"v":0.006},{"p":"D","c":"p2","t":0.8,"v":0.0091},{"p":"D","c":"p2","t":1,"v":0.0133},{"p":"D","c":"p2","t":1.2,"v":0.0187},{"p":"D","c":"p2","t":1.4,"v":0.0251},{"p":"D","c":"p2","t":1.6,"v":0.0323},{"p":"D","c":"p2","t":1.8,"v":0.0398},{"p":"D","c":"p2","t":2,"v":0.0471},{"p":"D","c":"p2","t":2.2,"v":0.0535},{"p":"D","c":"p2","t":2.4,"v":0.0582},{"p":"D","c":"p2","t":2.6,"v":0.0607},{"p":"D","c":"p2","t":2.8,"v":0.0607},{"p":"D","c":"p2","t":3,"v":0.0582},{"p":"D","c":"p2","t":3.2,"v":0.0535},{"p":"D","c":"p2","t":3.4,"v":0.0471},{"p":"D","c":"p2","t":3.6,"v":0.0398},{"p":"D","c":"p2","t":3.8,"v":0.0323},{"p":"D","c":"p2","t":4,"v":0.0251},{"p":"D","c":"p2","t":4.2,"v":0.0187},{"p":"D","c":"p2","t":4.4,"v":0.0133},{"p":"D","c":"p2","t":4.6,"v":0.0091},{"p":"D","c":"p2","t":4.8,"v":0.006},{"p":"D","c":"p2","t":5,"v":0.0038},{"p":"D","c":"p2","t":5.2,"v":0.0023},{"p":"D","c":"p2","t":5.4,"v":0.0013},{"p":"D","c":"p2","t":5.8,"v":0.0004},{"p":"D","c":"p2","t":6.2,"v":0},{"p":"D","c":"p2","t":7,"v":0},
    {"p":"D","c":"p1","t":-1,"v":0},{"p":"D","c":"p1","t":0,"v":0.0006},{"p":"D","c":"p1","t":0.2,"v":0.0029},{"p":"D","c":"p1","t":0.4,"v":0.0094},{"p":"D","c":"p1","t":0.6,"v":0.0191},{"p":"D","c":"p1","t":0.8,"v":0.025},{"p":"D","c":"p1","t":1,"v":0.0208},{"p":"D","c":"p1","t":1.2,"v":0.0113},{"p":"D","c":"p1","t":1.4,"v":0.0039},{"p":"D","c":"p1","t":1.6,"v":0.0008},{"p":"D","c":"p1","t":1.8,"v":0},{"p":"D","c":"p1","t":7,"v":0},
    {"p":"D","c":"total","t":-1,"v":0},{"p":"D","c":"total","t":-0.4,"v":0.0003},{"p":"D","c":"total","t":0,"v":0.0019},{"p":"D","c":"total","t":0.2,"v":0.0052},{"p":"D","c":"total","t":0.4,"v":0.0132},{"p":"D","c":"total","t":0.6,"v":0.0251},{"p":"D","c":"total","t":0.8,"v":0.0341},{"p":"D","c":"total","t":1,"v":0.0341},{"p":"D","c":"total","t":1.2,"v":0.03},{"p":"D","c":"total","t":1.4,"v":0.029},{"p":"D","c":"total","t":1.6,"v":0.0331},{"p":"D","c":"total","t":1.8,"v":0.0398},{"p":"D","c":"total","t":2,"v":0.0471},{"p":"D","c":"total","t":2.2,"v":0.0535},{"p":"D","c":"total","t":2.4,"v":0.0582},{"p":"D","c":"total","t":2.6,"v":0.0607},{"p":"D","c":"total","t":2.8,"v":0.0607},{"p":"D","c":"total","t":3,"v":0.0582},{"p":"D","c":"total","t":3.2,"v":0.0535},{"p":"D","c":"total","t":3.4,"v":0.0471},{"p":"D","c":"total","t":3.6,"v":0.0398},{"p":"D","c":"total","t":3.8,"v":0.0323},{"p":"D","c":"total","t":4,"v":0.0251},{"p":"D","c":"total","t":4.2,"v":0.0187},{"p":"D","c":"total","t":4.4,"v":0.0133},{"p":"D","c":"total","t":4.6,"v":0.0091},{"p":"D","c":"total","t":4.8,"v":0.006},{"p":"D","c":"total","t":5,"v":0.0038},{"p":"D","c":"total","t":5.2,"v":0.0023},{"p":"D","c":"total","t":5.4,"v":0.0013},{"p":"D","c":"total","t":5.8,"v":0.0004},{"p":"D","c":"total","t":6.2,"v":0},{"p":"D","c":"total","t":7,"v":0}
  ],
  "legendA": [
    {"label":"A Obs.","s":"A","k":"obs"},{"label":"B Obs.","s":"B","k":"obs"},{"label":"C Obs.","s":"C","k":"obs"},{"label":"D Obs.","s":"D","k":"obs"},
    {"label":"A Fit","s":"A","k":"fit"},{"label":"B Fit","s":"B","k":"fit"},{"label":"C Fit","s":"C","k":"fit"},{"label":"D Fit","s":"D","k":"fit"}
  ],
  "legendB": [
    {"label":"Obs.","c":"obs"},{"label":"Fit (peak 1+2)","c":"total"},{"label":"Fit (peak 1)","c":"p1"},{"label":"Fit (peak 2)","c":"p2"}
  ]
},
"spacing": 24,
"vconcat": [
  {
    "title": {"text": "\u00a0\u00a0\u00a0\u00a0(a)", "anchor": "start", "font": "Lato", "fontSize": 21, "fontWeight": "normal", "offset": 4},
    "vconcat": [
      {
        "spacing": 19,
        "hconcat": [
          {
            "width": 267, "height": 165,
            "layer": [
              {
                "data": {"name": "sizeFit"},
                "mark": {"type": "line", "interpolate": "monotone", "strokeWidth": 1.1},
                "encoding": {
                  "x": {"field": "d", "type": "quantitative", "scale": {"type": "log", "domain": [76.1, 652], "nice": false},
                    "axis": {"values": [80,90,100,200,300,400,500,600], "format": "d", "labelOverlap": false, "labelFlush": false, "labelFont": "Liberation Sans", "labelFontWeight": "bold", "labelFontSize": 12, "labelPadding": {"condition": {"test": "datum.value == 100", "value": -2}, "value": 0}, "tickSize": {"condition": {"test": "datum.value == 100", "value": 13}, "value": 4}, "domain": false, "title": "mass equivalent diameter of rBC", "titleFont": "Liberation Sans", "titleFontWeight": "bold", "titleFontSize": 14, "titlePadding": 3}},
                  "y": {"field": "v", "type": "quantitative", "scale": {"domain": [0, 1200], "nice": false},
                    "axis": {"values": [0,200,400,600,800,1000,1200], "format": "d", "labelOverlap": false, "labelFont": "Liberation Sans", "labelFontWeight": "bold", "labelFontSize": 14.5, "tickSize": -4, "labelPadding": 3, "domain": false, "labelFlush": false, "title": "dM/dlogD, ng/m\u00b3", "titleFont": "Liberation Sans", "titleFontWeight": "bold", "titleFontSize": 14.5, "titlePadding": 20}},
                  "color": {"field": "s", "type": "nominal", "scale": {"domain": ["A","B","C","D"], "range": ["#000000","#a6a6a6","#000000","#b8b8b8"]}, "legend": null},
                  "strokeDash": {"field": "s", "type": "nominal", "scale": {"domain": ["A","B","C","D"], "range": [[1,0],[1,0],[6,4],[6,4]]}, "legend": null}
                }
              },
              {
                "data": {"name": "sizeObs"},
                "mark": {"type": "point", "opacity": 1, "strokeWidth": 0.9},
                "encoding": {
                  "x": {"field": "d", "type": "quantitative"},
                  "y": {"field": "v", "type": "quantitative"},
                  "shape": {"field": "s", "type": "nominal", "scale": {"domain": ["A","B","C","D"], "range": ["circle","triangle-down","circle","triangle-down"]}, "legend": null},
                  "fill": {"field": "s", "type": "nominal", "scale": {"domain": ["A","B","C","D"], "range": ["#ffffff","#ffffff","#000000","#7f7f7f"]}, "legend": null},
                  "stroke": {"field": "s", "type": "nominal", "scale": {"domain": ["A","B","C","D"], "range": ["#000000","#8c8c8c","#000000","#7f7f7f"]}, "legend": null},
                  "size": {"field": "s", "type": "ordinal", "scale": {"domain": ["A","B","C","D"], "range": [20,26,20,26]}, "legend": null}
                }
              },
              {
                "data": {"values": [{"lines": ["Peak A: 188 nm", "Peak B: 183 nm", "Peak C: 210 nm", "Peak D: 217 nm"]}]},
                "mark": {"type": "text", "font": "Lato", "fontSize": 13.5, "color": "#707070", "align": "center", "baseline": "top", "lineHeight": 15.5},
                "encoding": {"x": {"datum": 195}, "y": {"datum": 493}, "text": {"field": "lines", "type": "nominal"}}
              }
            ]
          },
          {
            "width": 80, "height": 152,
            "data": {"name": "legendA"},
            "layer": [
              {
                "transform": [{"filter": "datum.k == 'obs'"}],
                "mark": {"type": "point", "opacity": 1, "strokeWidth": 0.9},
                "encoding": {
                  "x": {"datum": 0.25, "type": "quantitative", "scale": {"domain": [0, 1]}, "axis": null},
                  "y": {"field": "label", "type": "nominal", "scale": {"type": "point", "domain": ["A Obs.","B Obs.","C Obs.","D Obs.","gap","A Fit","B Fit","C Fit","D Fit"], "padding": 1, "align": 0.4}, "axis": null},
                  "shape": {"field": "s", "type": "nominal", "scale": {"domain": ["A","B","C","D"], "range": ["circle","triangle-down","circle","triangle-down"]}, "legend": null},
                  "fill": {"field": "s", "type": "nominal", "scale": {"domain": ["A","B","C","D"], "range": ["#ffffff","#ffffff","#000000","#7f7f7f"]}, "legend": null},
                  "stroke": {"field": "s", "type": "nominal", "scale": {"domain": ["A","B","C","D"], "range": ["#000000","#8c8c8c","#000000","#7f7f7f"]}, "legend": null},
                  "size": {"field": "s", "type": "ordinal", "scale": {"domain": ["A","B","C","D"], "range": [20,26,20,26]}, "legend": null}
                }
              },
              {
                "transform": [{"filter": "datum.k == 'fit'"}],
                "mark": {"type": "rule", "strokeWidth": 1.1},
                "encoding": {
                  "x": {"datum": 0.12, "type": "quantitative"},
                  "x2": {"datum": 0.54},
                  "y": {"field": "label", "type": "nominal"},
                  "color": {"field": "s", "type": "nominal", "scale": {"domain": ["A","B","C","D"], "range": ["#000000","#a6a6a6","#000000","#b8b8b8"]}, "legend": null},
                  "strokeDash": {"field": "s", "type": "nominal", "scale": {"domain": ["A","B","C","D"], "range": [[1,0],[1,0],[6,4],[6,4]]}, "legend": null}
                }
              },
              {
                "transform": [{"filter": "datum.k == 'obs'"}],
                "mark": {"type": "text", "align": "left", "baseline": "middle", "font": "Liberation Sans", "fontSize": 11.5, "color": "black"},
                "encoding": {"x": {"datum": 0.51, "type": "quantitative"}, "y": {"field": "label", "type": "nominal"}, "text": {"field": "label", "type": "nominal"}}
              },
              {
                "transform": [{"filter": "datum.k == 'fit'"}],
                "mark": {"type": "text", "align": "left", "baseline": "middle", "font": "Liberation Sans", "fontSize": 11.5, "color": "black"},
                "encoding": {"x": {"datum": 0.64, "type": "quantitative"}, "y": {"field": "label", "type": "nominal"}, "text": {"field": "label", "type": "nominal"}}
              }
            ]
          }
        ]
      }
    ]
  },
  {
    "spacing": 0,
    "vconcat": [
      {
        "title": {"text": "(b)", "anchor": "start", "font": "Lato", "fontSize": 21, "fontWeight": "normal", "dx": -3, "offset": 6},
        "spacing": 8,
        "vconcat": [
          {
            "spacing": 15,
            "hconcat": [
              {
                "width": 154, "height": 122,
                "layer": [
                  {
                    "data": {"name": "lagFit"}, "transform": [{"filter": "datum.p == 'A'"}],
                    "mark": {"type": "line", "interpolate": "monotone", "strokeWidth": 1},
                    "encoding": {
                      "x": {"field": "t", "type": "quantitative", "scale": {"domain": [-0.85, 7], "nice": false}, "axis": {"values": [0,2,4,6], "title": "Lag time, \u03bcs", "titleFont": "Lato", "titleFontSize": 15, "titleFontWeight": "normal", "titlePadding": 9, "labelFont": "Liberation Sans Narrow", "labelFontWeight": "bold", "labelFontSize": 10, "labelPadding": 3, "tickSize": 3, "domain": false, "labelFlush": false, "labelOverlap": false}},
                      "y": {"field": "v", "type": "quantitative", "scale": {"domain": [-0.01, 0.13], "nice": false}, "axis": {"values": [0,0.02,0.04,0.06,0.08,0.1,0.12], "format": ".2f", "title": "Normarized count", "titleFont": "Liberation Sans", "titleFontSize": 12.5, "titleFontWeight": "normal", "titlePadding": 6, "labelFont": "Liberation Sans Narrow", "labelFontWeight": "bold", "labelFontSize": 10, "labelPadding": 3, "tickSize": 3, "domain": false, "labelFlush": false, "labelOverlap": false}},
                      "color": {"field": "c", "type": "nominal", "scale": {"domain": ["p2","p1","total"], "range": ["#a6a6a6","#a6a6a6","#000000"]}, "legend": null},
                      "strokeDash": {"field": "c", "type": "nominal", "scale": {"domain": ["p2","p1","total"], "range": [[5,3],[1,0],[1,0]]}, "legend": null}
                    }
                  },
                  {
                    "data": {"name": "lagObs"}, "transform": [{"filter": "datum.p == 'A'"}],
                    "mark": {"type": "circle", "size": 6, "color": "black", "opacity": 1},
                    "encoding": {"x": {"field": "t", "type": "quantitative"}, "y": {"field": "v", "type": "quantitative"}}
                  },
                  {
                    "data": {"values": [{"letter": "A"}]},
                    "mark": {"type": "text", "font": "Liberation Sans", "fontWeight": "bold", "fontSize": 18, "align": "center", "baseline": "middle", "color": "black"},
                    "encoding": {"x": {"datum": -0.33}, "y": {"datum": 0.115}, "text": {"field": "letter", "type": "nominal"}}
                  },
                  {
                    "data": {"values": [{"lines": ["Peak 1: 27%, L\u0305T\u0305=0.7 \u03bcs", "Peak 2: 73%, L\u0305T\u0305=2.4 \u03bcs"]}]},
                    "mark": {"type": "text", "font": "Lato", "fontSize": 11, "align": "left", "baseline": "top", "lineHeight": 15, "color": "#222222"},
                    "encoding": {"x": {"datum": 0.28}, "y": {"datum": 0.1205}, "text": {"field": "lines", "type": "nominal"}}
                  }
                ]
              },
              {
                "width": 155, "height": 122,
                "layer": [
                  {
                    "data": {"name": "lagFit"}, "transform": [{"filter": "datum.p == 'B'"}],
                    "mark": {"type": "line", "interpolate": "monotone", "strokeWidth": 1},
                    "encoding": {
                      "x": {"field": "t", "type": "quantitative", "scale": {"domain": [-1, 7], "nice": false}, "axis": {"values": [0,2,4,6], "title": "Lag time, \u03bcs", "titleFont": "Lato", "titleFontSize": 15, "titleFontWeight": "normal", "titlePadding": 9, "labelFont": "Liberation Sans Narrow", "labelFontWeight": "bold", "labelFontSize": 10, "labelPadding": 3, "tickSize": 3, "domain": false, "labelFlush": false, "labelOverlap": false}},
                      "y": {"field": "v", "type": "quantitative", "scale": {"domain": [-0.01, 0.13], "nice": false}, "axis": {"values": [0,0.02,0.04,0.06,0.08,0.1,0.12], "format": ".2f", "title": "Normarized count", "titleFont": "Liberation Sans", "titleFontSize": 12.5, "titleFontWeight": "normal", "titlePadding": 6, "labelFont": "Liberation Sans Narrow", "labelFontWeight": "bold", "labelFontSize": 10, "labelPadding": 3, "tickSize": 3, "domain": false, "labelFlush": false, "labelOverlap": false}},
                      "color": {"field": "c", "type": "nominal", "scale": {"domain": ["p2","p1","total"], "range": ["#a6a6a6","#a6a6a6","#000000"]}, "legend": null},
                      "strokeDash": {"field": "c", "type": "nominal", "scale": {"domain": ["p2","p1","total"], "range": [[5,3],[1,0],[1,0]]}, "legend": null}
                    }
                  },
                  {
                    "data": {"name": "lagObs"}, "transform": [{"filter": "datum.p == 'B'"}],
                    "mark": {"type": "circle", "size": 6, "color": "black", "opacity": 1},
                    "encoding": {"x": {"field": "t", "type": "quantitative"}, "y": {"field": "v", "type": "quantitative"}}
                  },
                  {
                    "data": {"values": [{"letter": "B"}]},
                    "mark": {"type": "text", "font": "Liberation Sans", "fontWeight": "bold", "fontSize": 18, "align": "center", "baseline": "middle", "color": "black"},
                    "encoding": {"x": {"datum": -0.23}, "y": {"datum": 0.115}, "text": {"field": "letter", "type": "nominal"}}
                  },
                  {
                    "data": {"values": [{"lines": ["Peak 1: 35%, L\u0305T\u0305=0.6 \u03bcs", "Peak 2: 65%, L\u0305T\u0305=2.3 \u03bcs"]}]},
                    "mark": {"type": "text", "font": "Lato", "fontSize": 11, "align": "left", "baseline": "top", "lineHeight": 14, "color": "#222222"},
                    "encoding": {"x": {"datum": 0.85}, "y": {"datum": 0.1216}, "text": {"field": "lines", "type": "nominal"}}
                  }
                ]
              }
            ]
          },
          {
            "spacing": 15,
            "hconcat": [
              {
                "width": 154, "height": 122,
                "layer": [
                  {
                    "data": {"name": "lagFit"}, "transform": [{"filter": "datum.p == 'C'"}],
                    "mark": {"type": "line", "interpolate": "monotone", "strokeWidth": 1},
                    "encoding": {
                      "x": {"field": "t", "type": "quantitative", "scale": {"domain": [-0.85, 7], "nice": false}, "axis": {"values": [0,2,4,6], "title": "Lag time, \u03bcs", "titleFont": "Lato", "titleFontSize": 15, "titleFontWeight": "normal", "titlePadding": 9, "labelFont": "Liberation Sans Narrow", "labelFontWeight": "bold", "labelFontSize": 10, "labelPadding": 3, "tickSize": 3, "domain": false, "labelFlush": false, "labelOverlap": false}},
                      "y": {"field": "v", "type": "quantitative", "scale": {"domain": [-0.01, 0.13], "nice": false}, "axis": {"values": [0,0.02,0.04,0.06,0.08,0.1,0.12], "format": ".2f", "title": "Normarized count", "titleFont": "Liberation Sans", "titleFontSize": 12.5, "titleFontWeight": "normal", "titlePadding": 6, "labelFont": "Liberation Sans Narrow", "labelFontWeight": "bold", "labelFontSize": 10, "labelPadding": 3, "tickSize": 3, "domain": false, "labelFlush": false, "labelOverlap": false}},
                      "color": {"field": "c", "type": "nominal", "scale": {"domain": ["p2","p1","total"], "range": ["#a6a6a6","#a6a6a6","#000000"]}, "legend": null},
                      "strokeDash": {"field": "c", "type": "nominal", "scale": {"domain": ["p2","p1","total"], "range": [[5,3],[1,0],[1,0]]}, "legend": null}
                    }
                  },
                  {
                    "data": {"name": "lagObs"}, "transform": [{"filter": "datum.p == 'C'"}],
                    "mark": {"type": "circle", "size": 6, "color": "black", "opacity": 1},
                    "encoding": {"x": {"field": "t", "type": "quantitative"}, "y": {"field": "v", "type": "quantitative"}}
                  },
                  {
                    "data": {"values": [{"letter": "C"}]},
                    "mark": {"type": "text", "font": "Liberation Sans", "fontWeight": "bold", "fontSize": 18, "align": "center", "baseline": "middle", "color": "black"},
                    "encoding": {"x": {"datum": -0.26}, "y": {"datum": 0.115}, "text": {"field": "letter", "type": "nominal"}}
                  },
                  {
                    "data": {"values": [{"lines": ["Peak 1: 19%, L\u0305T\u0305=1.0 \u03bcs", "Peak 2: 81%, L\u0305T\u0305=2.4 \u03bcs"]}]},
                    "mark": {"type": "text", "font": "Lato", "fontSize": 11, "align": "left", "baseline": "top", "lineHeight": 16, "color": "#222222"},
                    "encoding": {"x": {"datum": 0.44}, "y": {"datum": 0.1101}, "text": {"field": "lines", "type": "nominal"}}
                  }
                ]
              },
              {
                "width": 155, "height": 122,
                "layer": [
                  {
                    "data": {"name": "lagFit"}, "transform": [{"filter": "datum.p == 'D'"}],
                    "mark": {"type": "line", "interpolate": "monotone", "strokeWidth": 1},
                    "encoding": {
                      "x": {"field": "t", "type": "quantitative", "scale": {"domain": [-1, 7], "nice": false}, "axis": {"values": [0,2,4,6], "title": "Lag time, \u03bcs", "titleFont": "Lato", "titleFontSize": 15, "titleFontWeight": "normal", "titlePadding": 9, "labelFont": "Liberation Sans Narrow", "labelFontWeight": "bold", "labelFontSize": 10, "labelPadding": 3, "tickSize": 3, "domain": false, "labelFlush": false, "labelOverlap": false}},
                      "y": {"field": "v", "type": "quantitative", "scale": {"domain": [-0.01, 0.13], "nice": false}, "axis": {"values": [0,0.02,0.04,0.06,0.08,0.1,0.12], "format": ".2f", "title": "Normarized count", "titleFont": "Liberation Sans", "titleFontSize": 12.5, "titleFontWeight": "normal", "titlePadding": 6, "labelFont": "Liberation Sans Narrow", "labelFontWeight": "bold", "labelFontSize": 10, "labelPadding": 3, "tickSize": 3, "domain": false, "labelFlush": false, "labelOverlap": false}},
                      "color": {"field": "c", "type": "nominal", "scale": {"domain": ["p2","p1","total"], "range": ["#a6a6a6","#a6a6a6","#000000"]}, "legend": null},
                      "strokeDash": {"field": "c", "type": "nominal", "scale": {"domain": ["p2","p1","total"], "range": [[5,3],[1,0],[1,0]]}, "legend": null}
                    }
                  },
                  {
                    "data": {"name": "lagObs"}, "transform": [{"filter": "datum.p == 'D'"}],
                    "mark": {"type": "circle", "size": 6, "color": "black", "opacity": 1},
                    "encoding": {"x": {"field": "t", "type": "quantitative"}, "y": {"field": "v", "type": "quantitative"}}
                  },
                  {
                    "data": {"values": [{"letter": "D"}]},
                    "mark": {"type": "text", "font": "Liberation Sans", "fontWeight": "bold", "fontSize": 18, "align": "center", "baseline": "middle", "color": "black"},
                    "encoding": {"x": {"datum": -0.08}, "y": {"datum": 0.1128}, "text": {"field": "letter", "type": "nominal"}}
                  },
                  {
                    "data": {"values": [{"lines": ["Peak 1: 12%, L\u0305T\u0305=0.8 \u03bcs", "Peak 2: 88%, L\u0305T\u0305=2.6 \u03bcs"]}]},
                    "mark": {"type": "text", "font": "Lato", "fontSize": 11, "align": "left", "baseline": "top", "lineHeight": 13.5, "color": "#222222"},
                    "encoding": {"x": {"datum": 0.69}, "y": {"datum": 0.1182}, "text": {"field": "lines", "type": "nominal"}}
                  }
                ]
              }
            ]
          }
        ]
      },
      {
        "width": 286, "height": 60,
        "data": {"name": "legendB"},
        "resolve": {"scale": {"y": "independent"}},
        "layer": [
          {
            "transform": [{"filter": "datum.c == 'obs'"}],
            "mark": {"type": "circle", "size": 10, "color": "black", "opacity": 1},
            "encoding": {
              "x": {"datum": 0.09, "type": "quantitative", "scale": {"domain": [0, 1]}, "axis": null},
              "y": {"field": "c", "type": "nominal", "scale": {"type": "point", "domain": ["obs","total"], "range": [21, 32], "padding": 0}, "axis": null}
            }
          },
          {
            "transform": [{"filter": "datum.c == 'total'"}],
            "mark": {"type": "rule", "color": "black", "strokeWidth": 1.2},
            "encoding": {
              "x": {"datum": 0.02, "type": "quantitative"}, "x2": {"datum": 0.148},
              "y": {"field": "c", "type": "nominal", "scale": {"type": "point", "domain": ["obs","total"], "range": [21, 32], "padding": 0}, "axis": null}
            }
          },
          {
            "transform": [{"filter": "datum.c == 'obs' || datum.c == 'total'"}],
            "mark": {"type": "text", "align": "left", "baseline": "middle", "font": "Liberation Sans", "fontSize": 10, "color": "black"},
            "encoding": {
              "x": {"datum": 0.176, "type": "quantitative"},
              "y": {"field": "c", "type": "nominal", "scale": {"type": "point", "domain": ["obs","total"], "range": [21, 32], "padding": 0}, "axis": null},
              "text": {"field": "label", "type": "nominal"}
            }
          },
          {
            "transform": [{"filter": "datum.c == 'p1' || datum.c == 'p2'"}],
            "mark": {"type": "rule", "color": "#a6a6a6", "strokeWidth": 1.1},
            "encoding": {
              "x": {"datum": 0.563, "type": "quantitative"}, "x2": {"datum": 0.696},
              "y": {"field": "c", "type": "nominal", "scale": {"type": "point", "domain": ["p1","p2"], "range": [21, 32], "padding": 0}, "axis": null},
              "strokeDash": {"field": "c", "type": "nominal", "scale": {"domain": ["p1","p2"], "range": [[1,0],[5,3]]}, "legend": null}
            }
          },
          {
            "transform": [{"filter": "datum.c == 'p1' || datum.c == 'p2'"}],
            "mark": {"type": "text", "align": "left", "baseline": "middle", "font": "Liberation Sans", "fontSize": 10, "color": "black"},
            "encoding": {
              "x": {"datum": 0.728, "type": "quantitative"},
              "y": {"field": "c", "type": "nominal", "scale": {"type": "point", "domain": ["p1","p2"], "range": [21, 32], "padding": 0}, "axis": null},
              "text": {"field": "label", "type": "nominal"}
            }
          }
        ]
      }
    ]
  }
]
}
